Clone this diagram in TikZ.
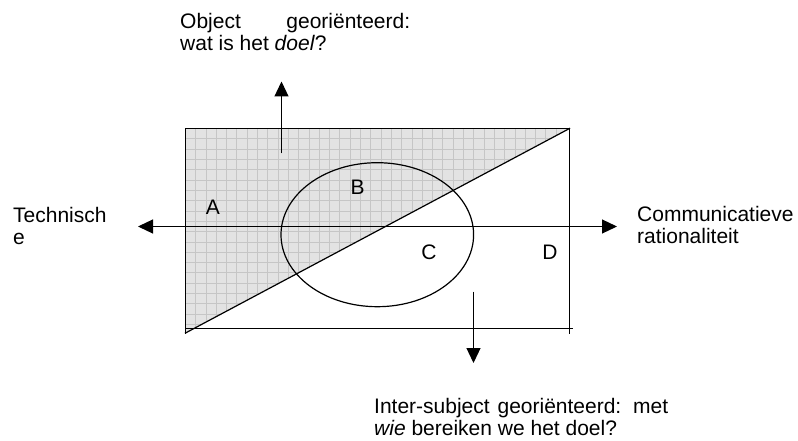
\documentclass[tikz,border=0pt]{standalone}
\usepackage{fontspec}
\setmainfont{Liberation Sans}
\usetikzlibrary{arrows.meta,shapes.geometric}
\begin{document}
\begin{tikzpicture}[x=1pt,y=-1pt,
  edge/.style={line width=1.2pt,line cap=rect},
  axis/.style={line width=1.2pt,-{Triangle[length=15pt,width=14pt]}},
  gridline/.style={draw=gray!45,line width=0.6pt},
  lbl/.style={font=\fontsize{21}{22}\selectfont,inner sep=0pt},
  txt/.style={font=\fontsize{21}{22}\selectfont,inner sep=0pt,anchor=base west}]
\useasboundingbox (0,0) rectangle (798,441);
% shaded triangle with grid pattern
\begin{scope}
  \clip (185.5,128.5) -- (569.5,128.5) -- (185.5,333) -- cycle;
  \fill[gray!22] (180,120) rectangle (575,340);
  \foreach \gx in {195.5,205.8,...,570} {\draw[gridline] (\gx,120) -- (\gx,340);}
  \foreach \gy in {138.8,149.1,...,335} {\draw[gridline] (180,\gy) -- (575,\gy);}
\end{scope}
% frame corners
\coordinate (tl) at (185.5,128.5);
\coordinate (tr) at (569.5,128.5);
\coordinate (bl) at (185.5,333);
\coordinate (br) at (569.5,333);
\coordinate (bll) at (185.5,328.5);
\coordinate (brr) at (572,328.5);
\draw[edge] (bl) -- (tl) -- (tr) -- (br);
\draw[edge] (bll) -- (brr);
\draw[edge] (bl) -- (tr);
% ellipse
\node[draw,line width=1.2pt,ellipse,inner sep=0pt,minimum width=192.6pt,minimum height=144pt] (ell) at (377.3,234.7) {};
% axes
\coordinate (axL) at (138,226.5);
\coordinate (axR) at (617,226.5);
\coordinate (axM) at (377.3,226.5);
\draw[axis] (axM) -- (axL);
\draw[axis] (axM) -- (axR);
\coordinate (upS) at (281.5,153.5);
\coordinate (upE) at (281.5,81.5);
\draw[axis] (upS) -- (upE);
\coordinate (dnS) at (473.5,291.7);
\coordinate (dnE) at (473.5,363);
\draw[axis] (dnS) -- (dnE);
% region labels
\node[lbl] (A) at (213,207.5) {A};
\node[lbl] (B) at (357.5,187) {B};
\node[lbl] (C) at (429,252.6) {C};
\node[lbl] (D) at (550,252.6) {D};
% texts
\node[txt] (obj1) at (180,29) {\makebox[230pt][s]{Object georiënteerd:}};
\node[txt] (obj2) at (180,51) {wat is het \textit{doel}?};
\node[txt] (tech1) at (13,222) {Technisch};
\node[txt] (tech2) at (13,244) {e};
\node[txt] (com1) at (637,221) {Communicatieve};
\node[txt] (com2) at (637,243) {rationaliteit};
\node[txt] (int1) at (374,413) {\makebox[294pt][s]{Inter-subject georiënteerd: met}};
\node[txt] (int2) at (374,435) {\textit{wie} bereiken we het doel?};
\end{tikzpicture}
\end{document}
